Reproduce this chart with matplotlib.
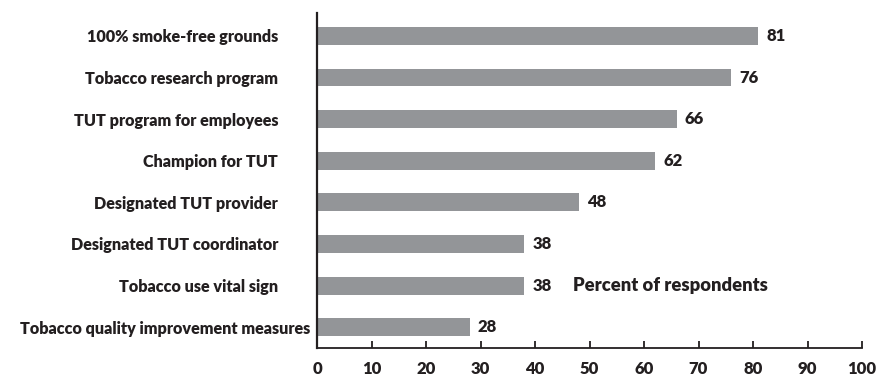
import matplotlib
matplotlib.use('Agg')
import matplotlib.pyplot as plt
import matplotlib.transforms as mtransforms

# data (top to bottom)
categories = ['100% smoke-free grounds', 'Tobacco research program', 'TUT program for employees',
              'Champion for TUT', 'Designated TUT provider', 'Designated TUT coordinator',
              'Tobacco use vital sign', 'Tobacco quality improvement measures']
values = [81, 76, 66, 62, 48, 38, 38, 28]
xticks = [0, 10, 20, 30, 40, 50, 60, 70, 80, 90, 100]

plt.rcParams['font.family'] = ['Lato', 'DejaVu Sans']
plt.rcParams['font.weight'] = 'bold'
txt = '#231f20'

fig = plt.figure(figsize=(8.77, 3.75), dpi=100)
ax = fig.add_axes([0.3615, 0.072, 0.6214, 0.8933])

ypos = list(range(len(categories)))
ax.barh(ypos, values, height=0.43, color='#939598')
for y, v in zip(ypos, values):
    ax.text(v + 1.5, y, str(v), va='center', ha='left', fontsize=12, fontweight='heavy', color=txt)

ax.set_ylim(7.5, -0.55)
ax.set_xlim(0, 100)
ax.set_yticks(ypos)
ax.set_yticklabels(categories, fontsize=11.6, fontweight='heavy', color=txt)
ax.tick_params(axis='y', length=0, pad=28)
# the long bottom label sits closer to the axis in the original
lab = ax.get_yticklabels()[-1]
lab.set_transform(lab.get_transform() + mtransforms.ScaledTranslation(32 / 100, 0, fig.dpi_scale_trans))
ax.set_xticks(xticks)
ax.set_xticklabels([str(t) for t in xticks], fontsize=12, fontweight='heavy', color=txt)
ax.tick_params(axis='x', direction='in', length=5, width=1.3, pad=9, color='#231f20')

ax.spines['top'].set_visible(False)
ax.spines['right'].set_visible(False)
ax.spines['left'].set_linewidth(1.6)
ax.spines['bottom'].set_linewidth(1.3)
ax.spines['left'].set_color('#231f20')
ax.spines['bottom'].set_color('#231f20')

ax.text(47.0, 6, 'Percent of respondents', va='center', ha='left', fontsize=13.2, fontweight='heavy', color=txt)

plt.savefig('out.png', dpi=100)
